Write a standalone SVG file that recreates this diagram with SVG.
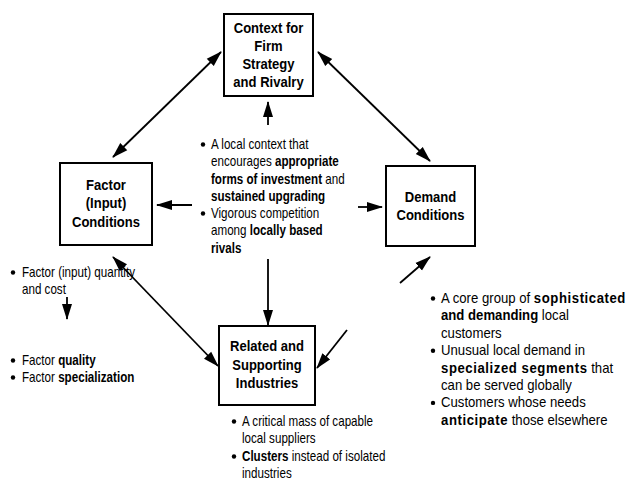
<svg xmlns="http://www.w3.org/2000/svg" width="643" height="488" viewBox="0 0 643 488">
<defs>
<marker id="ah" viewBox="0 0 16 11" refX="15" refY="5.5" markerWidth="16" markerHeight="11" markerUnits="userSpaceOnUse" orient="auto-start-reverse">
<path d="M0,0.5 L16,5.5 L0,10.5 z" fill="#000" stroke="none"/>
</marker>
</defs>
<style>
.box{fill:#fff;stroke:#000;stroke-width:2}
.lbl{font-family:"Liberation Sans",Arial,sans-serif;font-size:15px;font-weight:bold;text-anchor:middle;fill:#000}
.txt{font-family:"Liberation Sans",Arial,sans-serif;font-size:14px;fill:#000}
.b{font-weight:bold}
.bw{font-weight:bold;letter-spacing:0.6px}
.con{stroke:#000;stroke-width:1.8;fill:none}
.dot{fill:#000}
</style>
<rect width="643" height="488" fill="#fff"/>

<g id="connectors">
<line class="con" x1="113" y1="157" x2="221" y2="52" marker-start="url(#ah)" marker-end="url(#ah)"/>
<line class="con" x1="318" y1="52" x2="430" y2="161" marker-start="url(#ah)" marker-end="url(#ah)"/>
<line class="con" x1="268" y1="125" x2="268" y2="102" marker-end="url(#ah)"/>
<line class="con" x1="192" y1="205" x2="157" y2="205" marker-end="url(#ah)"/>
<line class="con" x1="358" y1="207" x2="382" y2="207" marker-end="url(#ah)"/>
<line class="con" x1="268" y1="259" x2="268" y2="325" marker-end="url(#ah)"/>
<line class="con" x1="113" y1="257" x2="218" y2="366" marker-start="url(#ah)" marker-end="url(#ah)"/>
<line class="con" x1="400" y1="283" x2="430" y2="257" marker-end="url(#ah)"/>
<line class="con" x1="347" y1="330" x2="317" y2="368" marker-end="url(#ah)"/>
<line class="con" x1="67" y1="297" x2="67" y2="319" marker-end="url(#ah)"/>
</g>

<g id="node-context">
<rect class="box" x="224" y="14" width="89" height="82"/>
<g transform="translate(268.5,0) scale(0.87,1)">
<text class="lbl" x="0" y="33">Context for</text>
<text class="lbl" x="0" y="51">Firm</text>
<text class="lbl" x="0" y="69">Strategy</text>
<text class="lbl" x="0" y="87.5">and Rivalry</text>
</g>
</g>

<g id="node-factor">
<rect class="box" x="60" y="163" width="92" height="82"/>
<g transform="translate(106,0) scale(0.87,1)">
<text class="lbl" x="0" y="190">Factor</text>
<text class="lbl" x="0" y="208.5">(Input)</text>
<text class="lbl" x="0" y="227">Conditions</text>
</g>
</g>

<g id="node-demand">
<rect class="box" x="386" y="166" width="89" height="80"/>
<g transform="translate(430.5,0) scale(0.87,1)">
<text class="lbl" x="0" y="202">Demand</text>
<text class="lbl" x="0" y="220.5">Conditions</text>
</g>
</g>

<g id="node-related">
<rect class="box" x="219" y="326" width="96" height="79"/>
<g transform="translate(267,0) scale(0.87,1)">
<text class="lbl" x="0" y="351.5">Related and</text>
<text class="lbl" x="0" y="370">Supporting</text>
<text class="lbl" x="0" y="388.5">Industries</text>
</g>
</g>

<g id="text-center">
<circle class="dot" cx="203" cy="144.5" r="2.2"/>
<circle class="dot" cx="203" cy="213.5" r="2.2"/>
<g transform="translate(211,0) scale(0.83,1)">
<text class="txt" x="0" y="149">A local context that</text>
<text class="txt" x="0" y="166.3">encourages <tspan class="b">appropriate</tspan></text>
<text class="txt" x="0" y="183.6"><tspan class="b">forms of investment</tspan> and</text>
<text class="txt" x="0" y="200.9"><tspan class="b">sustained upgrading</tspan></text>
<text class="txt" x="0" y="218.2">Vigorous competition</text>
<text class="txt" x="0" y="235.5">among <tspan class="b">locally based</tspan></text>
<text class="txt" x="0" y="252.8"><tspan class="b">rivals</tspan></text>
</g>
</g>

<g id="text-factor">
<circle class="dot" cx="13" cy="272.5" r="2.2"/>
<circle class="dot" cx="13" cy="360.5" r="2.2"/>
<circle class="dot" cx="13" cy="377.5" r="2.2"/>
<g transform="translate(22,0) scale(0.83,1)">
<text class="txt" x="0" y="277">Factor (input) quantity</text>
<text class="txt" x="0" y="294">and cost</text>
<text class="txt" x="0" y="365">Factor <tspan class="b">quality</tspan></text>
<text class="txt" x="0" y="382">Factor <tspan class="b">specialization</tspan></text>
</g>
</g>

<g id="text-demand">
<circle class="dot" cx="433" cy="298.5" r="2.2"/>
<circle class="dot" cx="433" cy="350.7" r="2.2"/>
<circle class="dot" cx="433" cy="402.9" r="2.2"/>
<g transform="translate(441,0) scale(0.94,1)">
<text class="txt" x="0" y="303">A core group of <tspan class="bw">sophisticated</tspan></text>
<text class="txt" x="0" y="320.4"><tspan class="b">and demanding</tspan> local</text>
<text class="txt" x="0" y="337.8">customers</text>
<text class="txt" x="0" y="355.2">Unusual local demand in</text>
<text class="txt" x="0" y="372.6"><tspan class="bw">specialized segments</tspan> that</text>
<text class="txt" x="0" y="390">can be served globally</text>
<text class="txt" x="0" y="407.4">Customers whose needs</text>
<text class="txt" x="0" y="424.8"><tspan class="bw">anticipate</tspan> those elsewhere</text>
</g>
</g>

<g id="text-related">
<circle class="dot" cx="234" cy="421.5" r="2.2"/>
<circle class="dot" cx="234" cy="456.5" r="2.2"/>
<g transform="translate(242,0) scale(0.83,1)">
<text class="txt" x="0" y="426">A critical mass of capable</text>
<text class="txt" x="0" y="443.5">local suppliers</text>
<text class="txt" x="0" y="461"><tspan class="b">Clusters</tspan> instead of isolated</text>
<text class="txt" x="0" y="478.5">industries</text>
</g>
</g>
</svg>
